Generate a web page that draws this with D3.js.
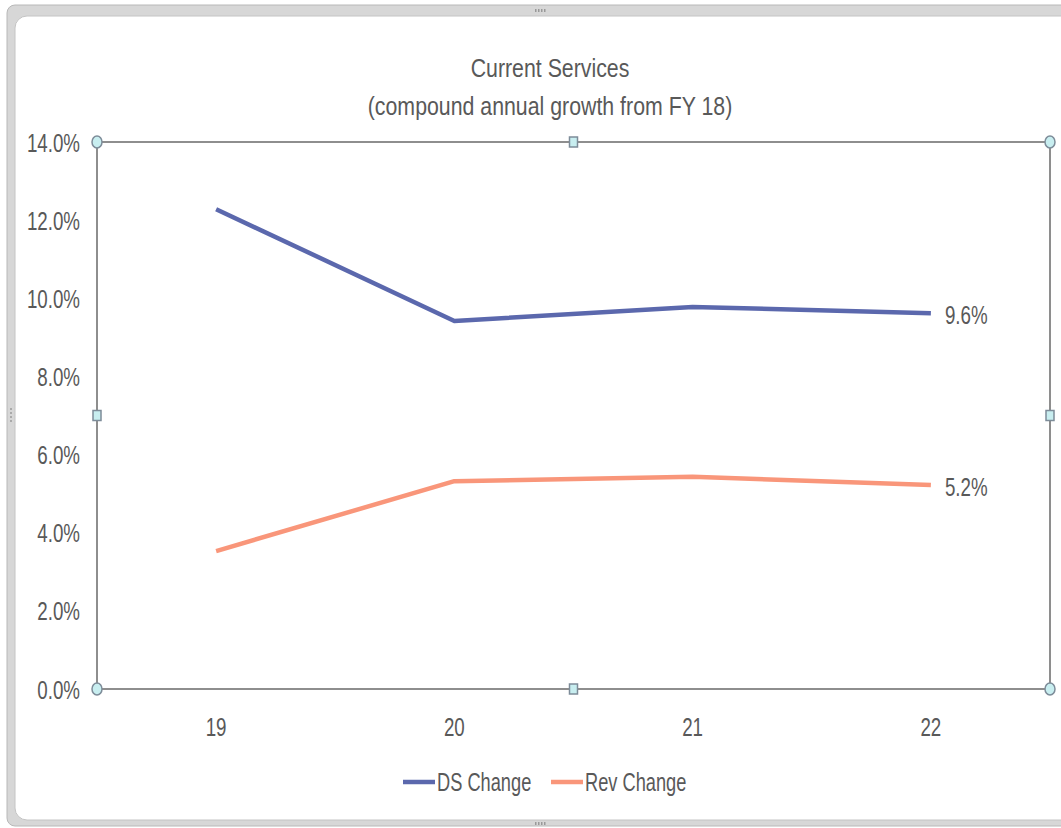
<!DOCTYPE html>
<html>
<head>
<meta charset="utf-8">
<script src="https://cdn.jsdelivr.net/npm/d3@7"></script>
<style>
  body { margin: 0; background: #fff; }
  text { font-family: "Liberation Sans", Arial, sans-serif; fill: #595959; }
</style>
</head>
<body>
<div id="viz"></div>
<script>
'use strict';

const years = ['19', '20', '21', '22'];
const dsChange = [12.28, 9.42, 9.78, 9.62];
const revChange = [3.53, 5.32, 5.43, 5.22];
const yTicks = [0, 2, 4, 6, 8, 10, 12, 14];
const seriesNames = ['DS Change', 'Rev Change'];
const seriesColors = ['#5b68ad', '#f9967a'];

const W = 1061, H = 828;
const margin = { top: 142, right: 11, bottom: 139, left: 97 };
const width = W - margin.left - margin.right;
const height = H - margin.top - margin.bottom;
const k = 0.75;      // horizontal squeeze of the fonts
const fs = 25;

const root = d3.select('#viz').append('svg')
  .attr('width', W).attr('height', H);

// chart frame (selection border)
root.append('rect')
  .attr('x', 7).attr('y', 5).attr('width', W + 20).attr('height', 821)
  .attr('rx', 8).attr('fill', '#d7d7d7').attr('stroke', '#b8b8b8');
root.append('rect')
  .attr('x', 15).attr('y', 16).attr('width', W + 20).attr('height', 804)
  .attr('rx', 12).attr('fill', '#fff').attr('stroke', '#c4c4c4');
// grips
[10, 823].forEach(gy => {
  for (let i = 0; i < 4; i++) {
    root.append('rect').attr('x', 535 + i * 3).attr('y', gy - 1)
      .attr('width', 1.5).attr('height', 3).attr('fill', '#999');
  }
});
for (let i = 0; i < 4; i++) {
  root.append('rect').attr('x', 10).attr('y', 408 + i * 4)
    .attr('width', 2).attr('height', 2).attr('fill', '#aaa');
}

// title
const titleLines = ['Current Services', '(compound annual growth from FY 18)'];
titleLines.forEach((t, i) => {
  root.append('g')
    .attr('transform', `translate(${550},${77 + i * 38}) scale(0.82,1)`)
    .append('text')
    .attr('text-anchor', 'middle')
    .style('font-size', '26px')
    .text(t);
});

const svg = root.append('g')
  .attr('transform', `translate(${margin.left},${margin.top})`);

const xScale = d3.scaleBand().domain(years).range([0, width]);
const yScale = d3.scaleLinear().domain([0, 14]).range([height, 0]);
const xPos = d => xScale(d) + xScale.bandwidth() / 2;

// plot area border
svg.append('rect')
  .attr('width', width).attr('height', height)
  .attr('fill', 'none').attr('stroke', '#8e8e8e').attr('stroke-width', 2);

// y axis
const yAxis = svg.append('g')
  .call(d3.axisLeft(yScale).tickValues(yTicks).tickSize(0)
    .tickFormat(d => d3.format('.1f')(d) + '%'));
yAxis.select('.domain').remove();
yAxis.selectAll('text')
  .attr('x', -17 / k)
  .attr('dy', '0.36em')
  .attr('transform', `scale(${k},1)`)
  .style('font-size', fs + 'px')
  .style('font-family', null);

// x axis
const xAxis = svg.append('g')
  .attr('transform', `translate(0,${height})`)
  .call(d3.axisBottom(xScale).tickSize(0));
xAxis.select('.domain').remove();
xAxis.selectAll('.tick text')
  .attr('y', 47)
  .attr('dy', null)
  .attr('transform', `scale(${k},1)`)
  .style('font-size', fs + 'px')
  .style('font-family', null);

// lines
const line = d3.line()
  .x((d, i) => xPos(years[i]))
  .y(d => yScale(d));

[dsChange, revChange].forEach((vals, s) => {
  svg.append('path')
    .datum(vals)
    .attr('fill', 'none')
    .attr('stroke', seriesColors[s])
    .attr('stroke-width', 4.5)
    .attr('stroke-linejoin', 'round')
    .attr('d', line);

  const last = vals[vals.length - 1];
  svg.append('g')
    .attr('transform', `translate(${xPos(years[years.length - 1]) + 14},${yScale(last) + 11}) scale(${k},1)`)
    .append('text')
    .style('font-size', fs + 'px')
    .text(d3.format('.1f')(last) + '%');
});

// selection handles
const corners = [[0, 0], [width, 0], [0, height], [width, height]];
corners.forEach(([cx, cy]) => {
  svg.append('ellipse')
    .attr('cx', cx).attr('cy', cy).attr('rx', 5).attr('ry', 6)
    .attr('fill', '#c8eef0').attr('stroke', '#7d8c99').attr('stroke-width', 1.5);
});
const mids = [[width / 2, 0], [width / 2, height], [0, height / 2], [width, height / 2]];
mids.forEach(([cx, cy]) => {
  svg.append('rect')
    .attr('x', cx - 4).attr('y', cy - 5).attr('width', 8).attr('height', 10)
    .attr('fill', '#c8eef0').attr('stroke', '#7d8c99').attr('stroke-width', 1.5);
});

// legend
const legendX = [403, 551];
seriesNames.forEach((name, i) => {
  const lg = root.append('g').attr('transform', `translate(${legendX[i]},${782})`);
  lg.append('line')
    .attr('x1', 0).attr('x2', 32).attr('y1', 0).attr('y2', 0)
    .attr('stroke', seriesColors[i]).attr('stroke-width', 4.5);
  lg.append('g')
    .attr('transform', `translate(34,9) scale(0.73,1)`)
    .append('text')
    .style('font-size', fs + 'px')
    .text(name);
});
</script>
</body>
</html>
